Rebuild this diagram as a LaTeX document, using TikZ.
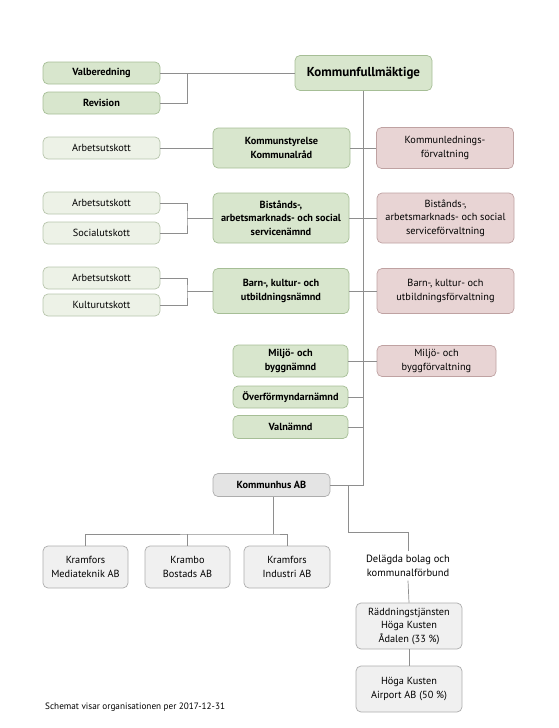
\documentclass[tikz,border=0pt]{standalone}
\usepackage{fontspec}
\setmainfont{PT Sans}
\usetikzlibrary{positioning,calc}
\definecolor{orggron}{HTML}{D8E6CD}
\definecolor{orggronkant}{HTML}{A6BE96}
\definecolor{orgljus}{HTML}{EDF2E7}
\definecolor{orgljuskant}{HTML}{B7C5AC}
\definecolor{orgrosa}{HTML}{E8D4D4}
\definecolor{orgrosakant}{HTML}{BFA2A2}
\definecolor{orggra}{HTML}{E4E4E4}
\definecolor{orggrakant}{HTML}{ADADAD}
\definecolor{orgbolag}{HTML}{F0F0F0}
\definecolor{orglinjefarg}{HTML}{8E8E8E}
\tikzset{
  orgbas/.style={rounded corners=5pt, align=center, inner sep=2pt, line width=0.7pt,
                 font=\fontsize{10.3}{13.5}\selectfont},
  orgnamnd/.style={orgbas, draw=orggronkant, fill=orggron, font=\fontsize{10.3}{13.5}\selectfont\bfseries},
  orgutskott/.style={orgbas, draw=orgljuskant, fill=orgljus, minimum width=117pt, minimum height=22pt},
  orgforv/.style={orgbas, draw=orgrosakant, fill=orgrosa},
  orgbolagbox/.style={orgbas, draw=orggrakant, fill=orgbolag},
  orglinje/.style={draw=orglinjefarg, line width=0.7pt},
}
\begin{document}
\begin{tikzpicture}[x=1pt, y=-1pt,
            nm/.style={orgnamnd, minimum width=117pt, minimum height=22pt},
            fv/.style={orgforv, minimum width=137pt}
        ]
            \useasboundingbox (0,0) rectangle (559,728);
            \node[orgnamnd, minimum width=137pt, minimum height=35pt, font=\fontsize{13}{15}\selectfont\bfseries] (kf) at (363.5,73) {Kommunfullmäktige};
            \node[nm] (valb) at (101.5,73) {Valberedning};
            \node[nm] (rev) at (101.5,103) {Revision};
            \node[orgutskott] (au1) at (101.5,148) {Arbetsutskott};
            \node[orgnamnd, minimum width=137pt, minimum height=40pt] (ks) at (281.5,148) {Kommunstyrelse\\Kommunalråd};
            \node[fv, minimum height=41pt] (klf) at (445,148) {Kommunlednings-\\förvaltning};
            \node[orgutskott] (au2) at (101.5,203) {Arbetsutskott};
            \node[orgutskott] (sau) at (101.5,233) {Socialutskott};
            \node[orgnamnd, minimum width=136pt, minimum height=50pt] (bn) at (281,218) {Bistånds-,\\arbetsmarknads- och social\\servicenämnd};
            \node[fv, minimum height=50pt] (bf) at (445.5,218) {Bistånds-,\\arbetsmarknads- och social\\serviceförvaltning};
            \node[orgutskott] (au3) at (101.5,278) {Arbetsutskott};
            \node[orgutskott] (kau) at (101.5,305) {Kulturutskott};
            \node[orgnamnd, minimum width=136pt, minimum height=45pt] (barn) at (281,291) {Barn-, kultur- och\\utbildningsnämnd};
            \node[fv, minimum height=45pt] (barnf) at (445.5,291) {Barn-, kultur- och\\utbildningsförvaltning};
            \node[orgnamnd, minimum width=115pt, minimum height=32pt] (mb) at (290.5,361) {Miljö- och\\byggnämnd};
            \node[orgforv, minimum width=119pt, minimum height=31pt] (mf) at (436.5,361) {Miljö- och\\byggförvaltning};
            \node[orgnamnd, minimum width=115pt, minimum height=22pt] (ofn) at (290.5,397) {Överförmyndarnämnd};
            \node[orgnamnd, minimum width=115pt, minimum height=23pt] (vn) at (290.5,427) {Valnämnd};
            \node[orgbolagbox, fill=orggra, minimum width=117pt, minimum height=23pt, font=\fontsize{10.3}{13.5}\selectfont\bfseries] (kh) at (271.5,485) {Kommunhus AB};
            \node[orgbolagbox, minimum width=85pt, minimum height=42pt] (kmt) at (85.5,567) {Kramfors\\Mediateknik AB};
            \node[orgbolagbox, minimum width=85pt, minimum height=42pt] (kbo) at (187.5,567) {Krambo\\Bostads AB};
            \node[orgbolagbox, minimum width=86pt, minimum height=42pt] (kin) at (287,567) {Kramfors\\Industri AB};
            \node[align=center, font=\fontsize{10.5}{13.5}\selectfont, inner sep=4pt] (del) at (408,566) {Delägda bolag och\\kommunalförbund};
            \node[orgbolagbox, minimum width=106pt, minimum height=46pt] (rtj) at (409,626) {Räddningstjänsten\\Höga Kusten\\Ådalen (33 \%)};
            \node[orgbolagbox, minimum width=106pt, minimum height=46pt] (hka) at (409,689) {Höga Kusten\\Airport AB (50 \%)};
            \node[anchor=west, font=\fontsize{9.2}{11}\selectfont, inner sep=0pt] (fot) at (45,707) {Schemat visar organisationen per 2017-12-31};
            \coordinate (b1) at (187,73);
            \coordinate (b2) at (187,218);
            \coordinate (b3) at (187,291);
            \coordinate (b4) at (273,534);
            \coordinate (b5) at (348,485);
            \draw[orglinje] (valb.east) -- (kf.west);
            \draw[orglinje] (rev.east) -| (b1);
            \draw[orglinje] (kf.south) |- (kh.east);
            \draw[orglinje] (au1.east) -- (ks.west);
            \draw[orglinje] (ks.east) -- (klf.west);
            \draw[orglinje] (au2.east) -| (b2) |- (sau.east);
            \draw[orglinje] (b2) -- (bn.west);
            \draw[orglinje] (bn.east) -- (bf.west);
            \draw[orglinje] (au3.east) -| (b3) |- (kau.east);
            \draw[orglinje] (b3) -- (barn.west);
            \draw[orglinje] (barn.east) -- (barnf.west);
            \draw[orglinje] (mb.east) -- (mf.west);
            \draw[orglinje] (ofn.east) -- (ofn.east -| kf.south);
            \draw[orglinje] (vn.east) -- (vn.east -| kf.south);
            \draw[orglinje] (kh.south -| b4) -- (b4);
            \draw[orglinje] (kmt.north) |- (b4) -| (kin.north);
            \draw[orglinje] (kbo.north) -- (kbo.north |- b4);
            \draw[orglinje] (b5) -- ++(0,47) -| (del.north);
            \draw[orglinje] (del.south) -- (rtj.north);
            \draw[orglinje] (rtj.south) -- (hka.north);
        \end{tikzpicture}
\end{document}
